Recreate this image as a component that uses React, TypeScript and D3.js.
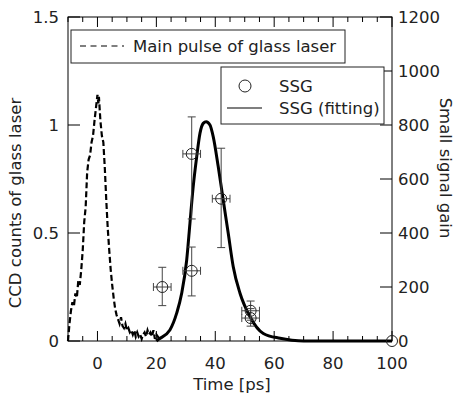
import React from "react";
import * as d3 from "d3";

// Main pulse of glass laser (left axis, CCD counts)
const pulseTime = [-10, -9.5, -9, -8.5, -8, -7.5, -7, -6.5, -6, -5.5, -5, -4.5, -4, -3.5, -3, -2.5, -2, -1.5, -1, -0.5, 0, 0.3, 0.5, 1, 1.5, 2, 2.5, 3, 3.5, 4, 4.5, 5, 5.5, 6, 6.5, 7, 7.5, 8, 8.5, 9, 9.5, 10, 10.5, 11, 11.5, 12, 12.5, 13, 13.5, 14, 14.5, 15, 15.5, 16, 16.5, 17, 17.5, 18, 18.5, 19, 19.5, 20, 20.5, 21, 22];
const pulseCounts = [0.0, 0.08, 0.14, 0.18, 0.16, 0.22, 0.2, 0.28, 0.26, 0.33, 0.42, 0.55, 0.62, 0.78, 0.84, 0.86, 0.92, 0.95, 1.02, 1.08, 1.14, 1.1, 1.13, 1.02, 0.95, 0.92, 0.8, 0.65, 0.52, 0.42, 0.33, 0.26, 0.2, 0.15, 0.12, 0.1, 0.08, 0.11, 0.07, 0.06, 0.08, 0.05, 0.06, 0.04, 0.05, 0.03, 0.05, 0.02, 0.04, 0.02, 0.03, 0.01, 0.03, 0.04, 0.02, 0.05, 0.03, 0.04, 0.02, 0.05, 0.01, 0.03, 0.02, 0.01, 0.01];

// SSG measurements (right axis)
const ssgTime = [22, 32, 32, 42, 52, 52, 100];
const ssgGain = [200, 260, 693, 527, 112, 85, 0];
const ssgLow = [131, 167, 452, 346, 77, 55, 0];
const ssgHigh = [273, 348, 830, 714, 148, 120, 0];
const ssgTimeErr = [3, 3, 3, 3, 3, 3, 0];

// SSG fitting curve (right axis)
const fitTime = [20, 20.7, 24.6, 26.9, 28.6, 30.3, 31.4, 32.5, 33.7, 34.8, 35.9, 36.9, 38.2, 39.3, 41.0, 42.7, 44.4, 46.1, 48.4, 51.8, 56.3, 62.0, 66, 70, 100];
const fitGain = [0, 6, 41, 103, 177, 300, 436, 571, 683, 769, 806, 812, 800, 757, 646, 522, 399, 275, 177, 90, 28, 10, 3, 0, 0];

const xTicks = [0, 20, 40, 60, 80, 100];
const yLeftTicks = [0, 0.5, 1, 1.5];
const yLeftLabels = ["0", "0.5", "1", "1.5"];
const yRightTicks = [0, 200, 400, 600, 800, 1000, 1200];

const W = 455;
const H = 399;
const L = 68, R = 392, T = 17, B = 341;
const FONT = "'DejaVu Sans', sans-serif";
const FS = 16.5;

export default function App() {
  const x = d3.scaleLinear().domain([-10, 100]).range([L, R]);
  const yL = d3.scaleLinear().domain([0, 1.5]).range([B, T]);
  const yR = d3.scaleLinear().domain([0, 1200]).range([B, T]);

  const minorX = d3.range(-10, 101, 5).filter((v) => v % 20 !== 0);

  const pulseLine = d3
    .line<number>()
    .x((_, i) => x(pulseTime[i]))
    .y((d) => yL(d));
  const fitLine = d3
    .line<number>()
    .x((_, i) => x(fitTime[i]))
    .y((d) => yR(d))
    .curve(d3.curveMonotoneX);

  const ink = "#000";
  const err = "#444";
  const txt = "#222";

  return (
    <svg
      width={W}
      height={H}
      style={{ position: "absolute", left: 0, top: 0, background: "#fff" }}
      fontFamily={FONT}
    >
      <rect x={0} y={0} width={W} height={H} fill="#fff" />
      {/* frame */}
      <rect x={L} y={T} width={R - L} height={B - T} fill="none" stroke={ink} strokeWidth={1} />

      {/* x ticks bottom & top */}
      {xTicks.map((t) => (
        <g key={"xt" + t}>
          <line x1={x(t)} x2={x(t)} y1={B} y2={B - 10} stroke={ink} />
          <line x1={x(t)} x2={x(t)} y1={T} y2={T + 10} stroke={ink} />
          <text x={x(t)} y={B + 28} textAnchor="middle" fontSize={FS} fill={txt}>
            {t}
          </text>
        </g>
      ))}
      {minorX.map((t) => (
        <g key={"xm" + t}>
          <line x1={x(t)} x2={x(t)} y1={B} y2={B - 5} stroke={ink} />
          <line x1={x(t)} x2={x(t)} y1={T} y2={T + 5} stroke={ink} />
        </g>
      ))}

      {/* left ticks */}
      {yLeftTicks.map((t, i) => (
        <g key={"yl" + t}>
          <line x1={L} x2={L + 12} y1={yL(t)} y2={yL(t)} stroke={ink} />
          <text x={L - 9} y={yL(t) + 6} textAnchor="end" fontSize={FS} fill={txt}>
            {yLeftLabels[i]}
          </text>
        </g>
      ))}

      {/* right ticks */}
      {yRightTicks.map((t) => (
        <g key={"yr" + t}>
          <line x1={R} x2={R - 12} y1={yR(t)} y2={yR(t)} stroke={ink} />
          <text x={R + 6} y={yR(t) + 6} textAnchor="start" fontSize={FS} fill={txt}>
            {t}
          </text>
        </g>
      ))}

      {/* axis titles */}
      <text x={(L + R) / 2 + 2} y={390} textAnchor="middle" fontSize={FS} fill={txt}>
        Time [ps]
      </text>
      <text
        transform={`translate(21,${(T + B) / 2 + 24}) rotate(-90)`}
        textAnchor="middle"
        fontSize={FS}
        fill={txt}
      >
        CCD counts of glass laser
      </text>
      <text
        transform={`translate(440,${168}) rotate(90)`}
        textAnchor="middle"
        fontSize={FS}
        fill={txt}
      >
        Small signal gain
      </text>

      {/* pulse */}
      <path
        d={pulseLine(pulseCounts) || ""}
        fill="none"
        stroke={ink}
        strokeWidth={2.2}
        strokeDasharray="6,3"
      />

      {/* fit */}
      <path d={fitLine(fitGain) || ""} fill="none" stroke={ink} strokeWidth={3} />

      {/* SSG points with error bars */}
      {ssgTime.map((t, i) => {
        const cx = x(t);
        const cy = yR(ssgGain[i]);
        const xe = ssgTimeErr[i];
        return (
          <g key={"p" + i} stroke={err} fill="none" strokeWidth={1}>
            {xe > 0 && (
              <>
                <line x1={cx} x2={cx} y1={yR(ssgLow[i])} y2={yR(ssgHigh[i])} />
                <line x1={cx - 4} x2={cx + 4} y1={yR(ssgLow[i])} y2={yR(ssgLow[i])} />
                <line x1={cx - 4} x2={cx + 4} y1={yR(ssgHigh[i])} y2={yR(ssgHigh[i])} />
                <line x1={x(t - xe)} x2={x(t + xe)} y1={cy} y2={cy} />
                <line x1={x(t - xe)} x2={x(t - xe)} y1={cy - 4} y2={cy + 4} />
                <line x1={x(t + xe)} x2={x(t + xe)} y1={cy - 4} y2={cy + 4} />
              </>
            )}
            <circle cx={cx} cy={cy} r={5.5} stroke="#222" fill="none" />
          </g>
        );
      })}

      {/* legend 1 */}
      <rect x={71} y={30} width={274} height={33} fill="#fff" stroke="#222" strokeWidth={1} />
      <line x1={80} x2={124} y1={46} y2={46} stroke={ink} strokeWidth={1.2} strokeDasharray="6,4.5" />
      <text x={133} y={52} fontSize={FS} fill={txt}>
        Main pulse of glass laser
      </text>

      {/* legend 2 */}
      <rect x={221} y={67} width={163} height={57} fill="#fff" stroke="#222" strokeWidth={1} />
      <circle cx={245} cy={86} r={6} fill="none" stroke="#222" />
      <text x={279} y={92} fontSize={FS} fill={txt}>
        SSG
      </text>
      <line x1={227} x2={262} y1={108} y2={108} stroke={ink} strokeWidth={1.2} />
      <text x={279} y={114} fontSize={FS} fill={txt}>
        SSG (fitting)
      </text>
    </svg>
  );
}
